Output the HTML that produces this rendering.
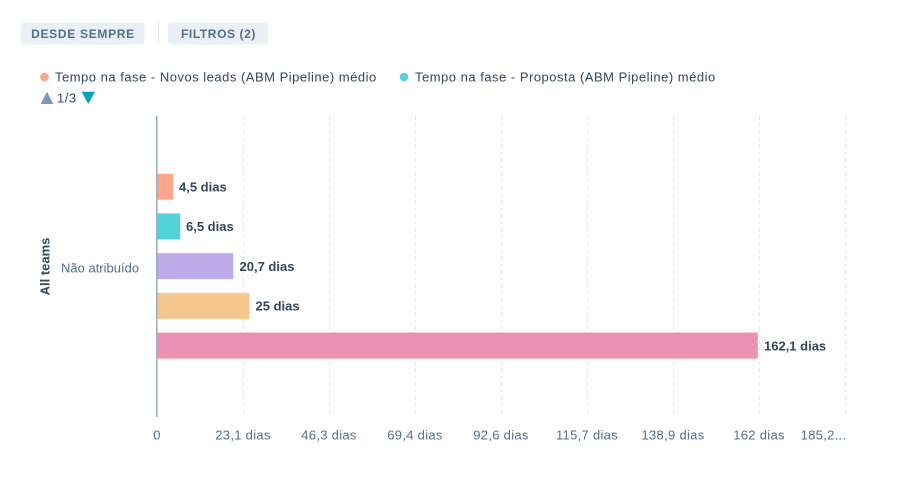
<!DOCTYPE html>
<html>
<head>
<meta charset="utf-8">
<style>
  html,body{margin:0;padding:0;background:#fff;}
  body{width:919px;height:483px;overflow:hidden;position:relative;font-family:"Liberation Sans",sans-serif;}
  svg{position:absolute;left:0;top:0;}
</style>
</head>
<body>
<svg width="919" height="483" viewBox="0 0 919 483" xmlns="http://www.w3.org/2000/svg" font-family="Liberation Sans, sans-serif">
  <!-- Buttons -->
  <rect x="20.5" y="22.5" width="124" height="22" rx="3" fill="#eaf0f6"/>
  <text x="83" y="38" text-anchor="middle" font-size="12" font-weight="bold" fill="#516f90" letter-spacing="0.7">DESDE SEMPRE</text>
  <line x1="158.5" y1="22" x2="158.5" y2="43" stroke="#dfe3eb" stroke-width="1"/>
  <rect x="168" y="22.5" width="100" height="22" rx="3" fill="#eaf0f6"/>
  <text x="218.5" y="38" text-anchor="middle" font-size="12" font-weight="bold" fill="#516f90" letter-spacing="0.6">FILTROS (2)</text>

  <!-- Legend -->
  <circle cx="44.5" cy="77" r="4.3" fill="#fea58e"/>
  <text x="55" y="81.5" font-size="13" fill="#33475b" letter-spacing="0.5">Tempo na fase - Novos leads (ABM Pipeline) médio</text>
  <circle cx="404" cy="77" r="4.3" fill="#51d3d9"/>
  <text x="415" y="81.5" font-size="13" fill="#33475b" letter-spacing="0.5">Tempo na fase - Proposta (ABM Pipeline) médio</text>

  <!-- pager -->
  <polygon points="40.7,104 53.3,104 47,91.7" fill="#7c98b6"/>
  <text x="57" y="102.5" font-size="13" fill="#33475b" letter-spacing="0.5">1/3</text>
  <polygon points="81.7,91.7 95,91.7 88.3,104" fill="#00a4bd"/>

  <!-- gridlines -->
  <g stroke="#e1e7ee" stroke-width="1" stroke-dasharray="4,3">
    <line x1="243.5" y1="116" x2="243.5" y2="417"/>
    <line x1="329.5" y1="116" x2="329.5" y2="417"/>
    <line x1="415.5" y1="116" x2="415.5" y2="417"/>
    <line x1="501.5" y1="116" x2="501.5" y2="417"/>
    <line x1="587.5" y1="116" x2="587.5" y2="417"/>
    <line x1="673.5" y1="116" x2="673.5" y2="417"/>
    <line x1="759.5" y1="116" x2="759.5" y2="417"/>
    <line x1="845.5" y1="116" x2="845.5" y2="417"/>
  </g>

  <!-- bars -->
  <g stroke="#ffffff" stroke-opacity="0.45" stroke-width="1">
    <rect x="157" y="173.5" width="16.5" height="26.5" fill="#fea58e"/>
    <rect x="157" y="213.2" width="23.5" height="26.5" fill="#51d3d9"/>
    <rect x="157" y="252.9" width="76.5" height="26.5" fill="#bea9e9"/>
    <rect x="157" y="292.6" width="92.5" height="26.5" fill="#f5c78e"/>
    <rect x="157" y="332.3" width="601" height="26.5" fill="#ea90b1"/>
  </g>

  <!-- axis line -->
  <line x1="156.8" y1="116" x2="156.8" y2="417" stroke="#99afc4" stroke-width="1.6"/>

  <!-- bar labels -->
  <g font-size="13" font-weight="bold" fill="#33475b">
    <text x="179" y="191.5">4,5 dias</text>
    <text x="186" y="231.2">6,5 dias</text>
    <text x="239.5" y="270.9">20,7 dias</text>
    <text x="255.5" y="310.6">25 dias</text>
    <text x="764" y="350.3">162,1 dias</text>
  </g>

  <!-- category labels -->
  <text x="61" y="272.5" font-size="13" fill="#516f90">Não atribuído</text>
  <text transform="translate(49.5,266.5) rotate(-90)" text-anchor="middle" font-size="13" font-weight="bold" fill="#33475b">All teams</text>

  <!-- tick labels -->
  <g font-size="13" fill="#516f90" text-anchor="middle" letter-spacing="0.3">
    <text x="157" y="439.5">0</text>
    <text x="243" y="439.5">23,1 dias</text>
    <text x="329" y="439.5">46,3 dias</text>
    <text x="415" y="439.5">69,4 dias</text>
    <text x="501" y="439.5">92,6 dias</text>
    <text x="587" y="439.5">115,7 dias</text>
    <text x="673" y="439.5">138,9 dias</text>
    <text x="759" y="439.5">162 dias</text>
    <text x="823.5" y="439.5">185,2...</text>
  </g>
</svg>
</body>
</html>
